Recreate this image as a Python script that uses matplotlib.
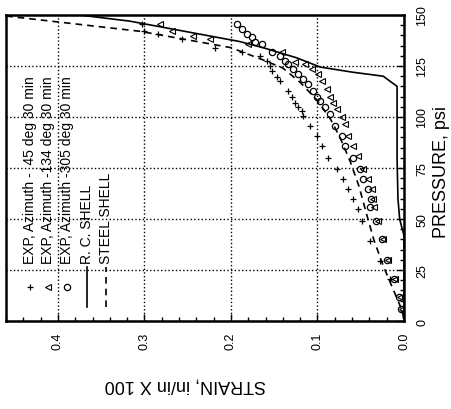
import matplotlib
matplotlib.use('Agg')
import matplotlib.pyplot as plt
from matplotlib.ticker import MultipleLocator

plt.rcParams['font.family'] = ['Liberation Sans', 'DejaVu Sans']

# experimental points, strain (in/in x 100) vs pressure (psi)
az45_strain = [0.303, 0.300, 0.284, 0.257, 0.218, 0.187, 0.166, 0.158, 0.155, 0.153,
               0.147, 0.143, 0.134, 0.130, 0.126, 0.123, 0.118, 0.117, 0.109, 0.101,
               0.095, 0.088, 0.077, 0.070, 0.065, 0.059, 0.053, 0.049, 0.039, 0.028, 0.016]
az45_press = [145.6, 142, 140.7, 138, 134, 132, 130, 127.5, 125, 122.5,
              119.6, 117.6, 112.7, 110, 107, 105, 103, 100.5, 95.6, 90.7,
              86, 80, 74.5, 69.6, 64.7, 60, 55, 49, 39, 29.4, 20.6]

az134_strain = [0.282, 0.268, 0.244, 0.224, 0.180, 0.141, 0.126, 0.114, 0.106, 0.099,
                0.095, 0.089, 0.086, 0.082, 0.077, 0.072, 0.068, 0.065, 0.059, 0.053,
                0.047, 0.042, 0.037, 0.036, 0.035, 0.030, 0.024, 0.018, 0.010, 0.005, 0.002]
az134_press = [145.6, 142, 139.7, 138, 136, 132, 127, 126, 123.5, 121,
               117.6, 113.7, 110, 107, 104, 100, 96.6, 90.7, 86, 81,
               74.5, 69.6, 64.7, 60, 56, 49, 40, 30, 20.6, 11.8, 6]

az305_strain = [0.193, 0.187, 0.181, 0.176, 0.172, 0.164, 0.153, 0.143, 0.138, 0.134,
                0.128, 0.123, 0.117, 0.111, 0.105, 0.100, 0.097, 0.091, 0.086, 0.080,
                0.072, 0.068, 0.059, 0.051, 0.047, 0.042, 0.038, 0.039, 0.032, 0.026,
                0.020, 0.012, 0.006, 0.003]
az305_press = [145.6, 143, 140.7, 139, 137, 136, 132, 130, 127.5, 126,
               123.5, 121, 118.6, 116, 112.7, 110, 108, 105, 101.5, 95.6,
               90.7, 86, 80, 74.5, 69.6, 64.7, 59.8, 56, 49, 40,
               30, 20.6, 11.8, 6]

# analysis curves
rc_strain = [0.375, 0.317, 0.190, 0.163, 0.124, 0.097, 0.060, 0.024, 0.008, 0.008,
             0.007, 0.005, 0.002, 0.0, 0.0]
rc_press = [150, 147, 137, 134, 129, 124.5, 122, 120, 115, 80,
            60, 50, 45, 42, 0]

steel_strain = [0.46, 0.305, 0.200, 0.163, 0.140, 0.120, 0.100, 0.085, 0.074, 0.062,
                0.052, 0.043, 0.035, 0.024, 0.013, 0.002, 0.0]
steel_press = [149.5, 142, 134, 128, 124, 117, 108, 99, 90, 78,
               66, 52, 40, 27, 16, 5, 0]

legend_labels = ['EXP, Azimuth -  45 deg 30 min', 'EXP, Azimuth -134 deg 30 min',
                 'EXP, Azimuth -305 deg 30 min', 'R. C. SHELL', 'STEEL SHELL']

fig = plt.figure(figsize=(4.51, 4.10), dpi=100)
ax = fig.add_axes([6/451, 1-322/410, 398/451, 306/410])

plus_kw = dict(color='k', ms=5, mew=0.9)
tri_kw = dict(mfc='none', mec='k', ms=4, mew=0.8)
circ_kw = dict(mfc='none', mec='k', ms=4.5, mew=0.9)

ax.plot(az45_strain, az45_press, '+', ls='none', **plus_kw)
ax.plot(az134_strain, az134_press, '<', ls='none', **tri_kw)
ax.plot(az305_strain, az305_press, 'o', ls='none', **circ_kw)
ax.plot(rc_strain, rc_press, '-', color='k', lw=1.2)
ax.plot(steel_strain, steel_press, color='k', lw=1.2, dashes=(4, 3))

ax.set_xlim(0.46, 0)
ax.set_ylim(0, 150)
ax.xaxis.set_major_locator(MultipleLocator(0.1))
ax.xaxis.set_minor_locator(MultipleLocator(0.02))
ax.yaxis.set_major_locator(MultipleLocator(25))
ax.yaxis.set_minor_locator(MultipleLocator(5))
ax.yaxis.tick_right()
ax.tick_params(which='both', direction='in', top=False, left=False, right=True, bottom=True)
ax.tick_params(which='major', length=5, width=1, labelsize=9)
ax.tick_params(which='minor', length=3, width=1)
ax.tick_params(axis='x', labelrotation=90, pad=8)
ax.tick_params(axis='y', labelrotation=90, pad=9)
for lab in ax.get_yticklabels():
    lab.set_va('center')
ax.grid(True, which='major', linestyle=':', color='k', lw=1)
for sp in ax.spines.values():
    sp.set_linewidth(1.8)

ax.set_xlabel('STRAIN, in/in X 100', rotation=180, fontsize=13, ha='center', va='center')
ax.xaxis.set_label_coords(0.45, -0.206)
ax.yaxis.set_label_position('right')
ax.set_ylabel('PRESSURE, psi', rotation=90, fontsize=13, ha='center', va='center')
ax.yaxis.set_label_coords(1.093, 0.49)

# hand-made rotated legend
col_x = [(px - 6) / 398 for px in [30, 48, 67, 87, 106]]
mark_y = (322 - 288) / 306
ax.plot(col_x[0], mark_y, '+', transform=ax.transAxes, **plus_kw)
ax.plot(col_x[1], mark_y, '<', transform=ax.transAxes, **tri_kw)
ax.plot(col_x[2], mark_y, 'o', transform=ax.transAxes, **circ_kw)
ax.plot([col_x[3]] * 2, [0.046, 0.176], '-', color='k', lw=1.2, transform=ax.transAxes)
ax.plot([col_x[4]] * 2, [0.046, 0.176], color='k', lw=1.2, dashes=(4, 3), transform=ax.transAxes)
for cx, lab in zip(col_x, legend_labels):
    ax.text(cx, 0.19, lab, rotation=90, ha='center', va='bottom', fontsize=10,
            transform=ax.transAxes)

fig.savefig('out.png', dpi=100, facecolor='white')
